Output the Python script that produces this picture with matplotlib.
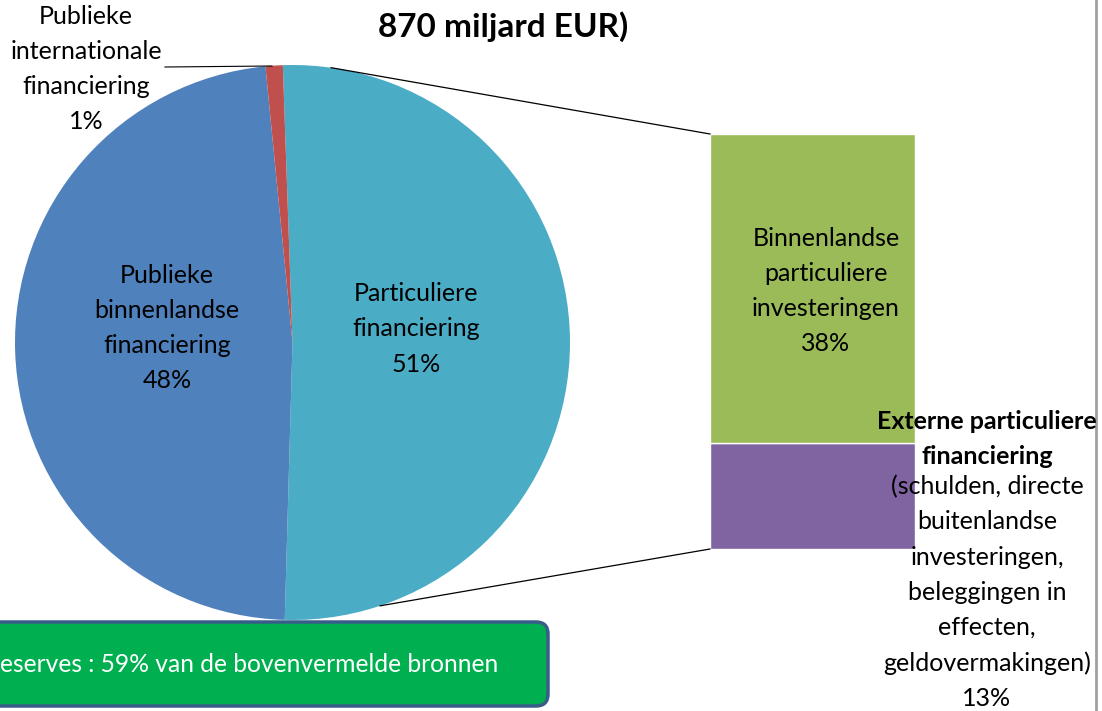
import matplotlib.pyplot as plt
import numpy as np
from matplotlib.patches import FancyBboxPatch

plt.rcParams["font.family"] = ["Lato", "DejaVu Sans"]

# pie: total financing split
pie_labels = [
    "Particuliere\nfinanciering\n51%",
    "Publieke\nbinnenlandse\nfinanciering\n48%",
    "Publieke\ninternationale\nfinanciering\n1%",
]
pie_values = [51, 48, 1]
pie_colors = ["#4BACC6", "#4F81BD", "#C0504D"]

# bar: breakdown of private financing
bar_values = [13, 38]  # bottom to top
bar_colors = ["#8064A2", "#9BBB59"]
bar_label_domestic = "Binnenlandse\nparticuliere\ninvesteringen\n38%"
bar_label_ext_bold = "Externe particuliere\nfinanciering"
bar_label_ext = ("(schulden, directe\nbuitenlandse\ninvesteringen,\n"
                 "beleggingen in\neffecten,\ngeldovermakingen)\n13%")

title = "870 miljard EUR)"
box_text = "eserves : 59% van de bovenvermelde bronnen"

W, H = 1102, 711
fig = plt.figure(figsize=(W / 100, H / 100), dpi=100)
ax = fig.add_axes([0, 0, 1, 1])

# pie
cx, cy, r = 292.5, H - 342.5, 277.5
ax.pie(pie_values, colors=pie_colors, startangle=92, counterclock=False,
       center=(cx, cy), radius=r, wedgeprops={"linewidth": 0}, frame=True)

# bar of pie
px_per_pct = 415 / sum(bar_values)
bar_x, bar_w, bar_bottom = 812.5, 205, H - 549
bottom = bar_bottom
for v, c in zip(bar_values, bar_colors):
    ax.bar(bar_x, v * px_per_pct, width=bar_w, bottom=bottom, color=c,
           edgecolor="white", linewidth=1)
    bottom += v * px_per_pct
bar_top = bottom

# connector lines from pie to bar
for ang, (bx, by) in [(82, (bar_x - bar_w / 2, bar_top)),
                      (-71.6, (bar_x - bar_w / 2, bar_bottom))]:
    a = np.deg2rad(ang)
    ax.plot([cx + r * np.cos(a), bx], [cy + r * np.sin(a), by],
            color="black", lw=0.9)

txt = dict(fontsize=18, ha="center", va="center", linespacing=1.64)
ax.text(167, H - 328, pie_labels[1], **txt)
ax.text(416, H - 329, pie_labels[0], **txt)
ax.text(86, H - 69, pie_labels[2], **txt)
ax.plot([165, 272], [H - 67, H - 66], color="black", lw=0.8)

ax.text(826, H - 291, bar_label_domestic, **txt)
ax.text(987, H - 439, bar_label_ext_bold, fontweight="bold", **txt)
ax.text(987, H - 592.5, bar_label_ext, **txt)

ax.text(503, H - 27, title, fontsize=24, fontweight="bold",
        ha="center", va="center")

# green note box
box = FancyBboxPatch((-40, H - 706), 588, 84,
                     boxstyle="round,pad=0,rounding_size=12",
                     facecolor="#00B050", edgecolor="#385D8A", lw=2.5)
ax.add_patch(box)
ax.text(0, H - 665, box_text, fontsize=17.7, color="white",
        ha="left", va="center")

# chart border remnant at right
ax.plot([1096, 1096], [0, H], color="#A0A0A0", lw=2)

ax.set_xlim(0, W)
ax.set_ylim(0, H)
ax.set_aspect("equal")
ax.axis("off")

fig.savefig("out.png", dpi=100)
